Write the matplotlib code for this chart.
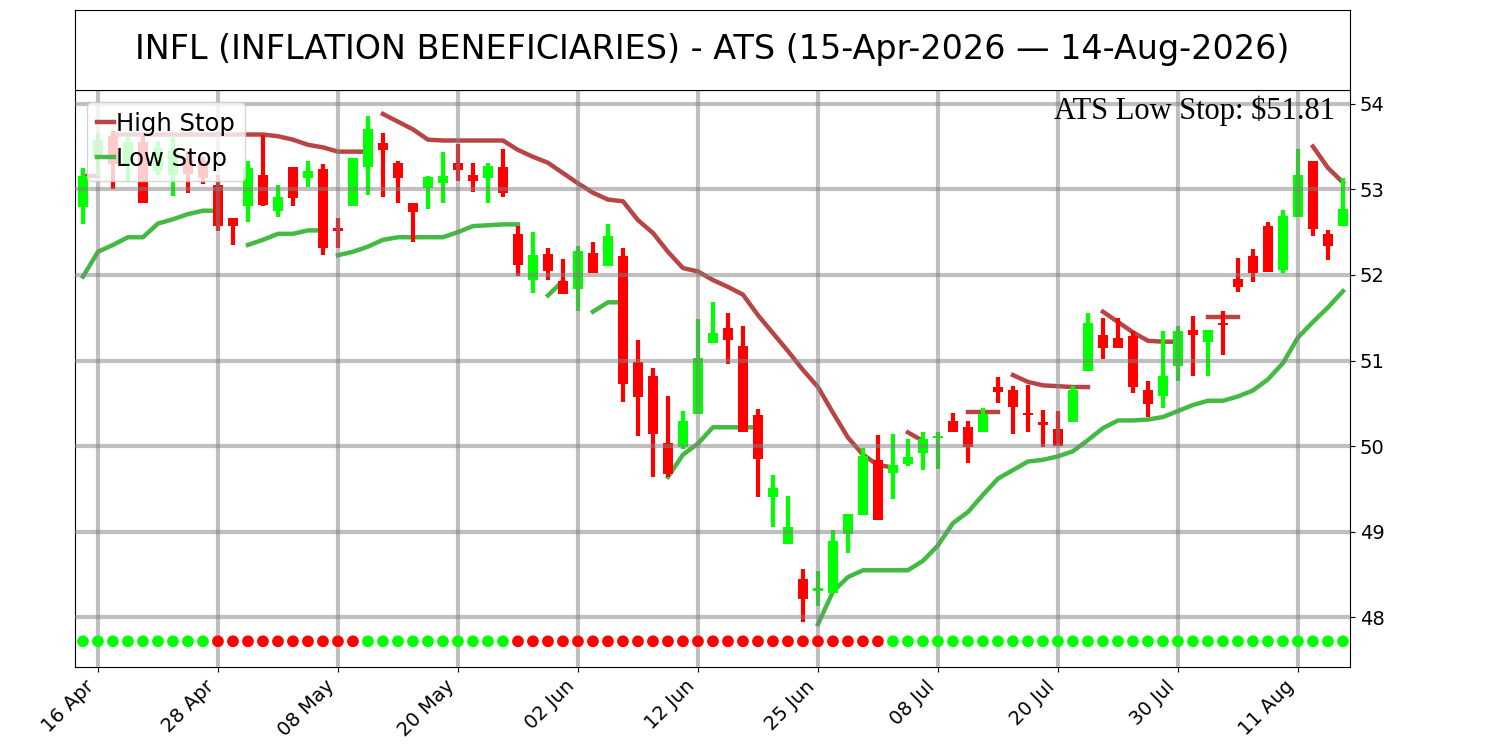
import matplotlib.pyplot as plt

# trading-day candles, 15-Apr-2026 .. 14-Aug-2026 (index = trading day)
opens = [52.79, 53.38, 53.62, 53.30, 53.55, 53.21, 53.17, 53.35, 53.33, 53.05,
         52.67, 52.80, 53.17, 52.75, 53.26, 53.13, 53.24, 52.55, 52.81, 53.26,
         53.54, 53.31, 52.84, 53.01, 53.07, 53.31, 53.17, 53.13, 53.26, 52.48,
         51.94, 52.25, 51.93, 51.83, 52.26, 52.10, 52.22, 50.98, 50.82, 50.04,
         49.99, 50.37, 51.20, 51.38, 51.17, 50.36, 49.40, 48.86, 48.45, 48.31,
         48.28, 48.97, 49.19, 49.84, 49.69, 49.79, 49.92, 50.09, 50.29, 50.22,
         50.16, 50.69, 50.66, 50.37, 50.26, 50.20, 50.28, 50.88, 51.30, 51.26,
         51.29, 50.66, 50.58, 50.94, 51.36, 51.22, 51.43, 51.95, 52.22, 52.57,
         52.06, 52.68, 53.33, 52.48, 52.57]
highs = [53.25, 53.66, 53.68, 53.62, 53.62, 53.56, 53.62, 53.45, 53.38, 53.17,
         52.67, 53.33, 53.64, 53.05, 53.26, 53.33, 53.30, 52.66, 53.37, 53.86,
         53.66, 53.33, 52.84, 53.15, 53.44, 53.53, 53.31, 53.31, 53.47, 52.57,
         52.50, 52.31, 52.19, 52.34, 52.38, 52.59, 52.31, 51.24, 50.91, 50.59,
         50.41, 51.49, 51.68, 51.55, 51.40, 50.43, 49.66, 49.42, 48.57, 48.54,
         49.02, 49.21, 49.98, 50.13, 50.14, 50.08, 50.17, 50.17, 50.39, 50.29,
         50.45, 50.81, 50.70, 50.71, 50.42, 50.41, 50.70, 51.55, 51.50, 51.50,
         51.34, 50.76, 51.35, 51.40, 51.52, 51.36, 51.58, 52.20, 52.30, 52.62,
         52.76, 53.47, 53.33, 52.53, 53.13]
lows = [52.60, 53.15, 53.00, 53.10, 52.84, 53.17, 52.92, 52.96, 53.06, 52.51,
        52.35, 52.62, 52.80, 52.68, 52.80, 53.03, 52.23, 52.32, 52.80, 52.93,
        52.91, 52.84, 52.38, 52.77, 52.84, 53.10, 52.97, 52.84, 52.91, 51.99,
        51.79, 51.94, 51.78, 51.58, 52.02, 52.10, 50.51, 50.12, 49.64, 49.64,
        49.97, 50.37, 51.20, 50.96, 50.17, 49.41, 49.06, 48.86, 47.94, 48.13,
        48.28, 48.75, 49.19, 49.14, 49.38, 49.77, 49.72, 49.73, 50.16, 49.80,
        50.16, 50.50, 50.14, 50.17, 49.99, 50.00, 50.28, 50.88, 51.02, 51.15,
        50.62, 50.34, 50.44, 50.76, 50.82, 50.82, 51.06, 51.80, 51.92, 52.03,
        52.02, 52.68, 52.46, 52.17, 52.57]
closes = [53.16, 53.58, 53.30, 53.55, 52.84, 53.48, 53.45, 53.18, 53.13, 52.57,
          52.57, 53.25, 52.82, 52.91, 52.90, 53.21, 52.31, 52.51, 53.36, 53.70,
          53.46, 53.13, 52.73, 53.14, 53.15, 53.23, 53.10, 53.27, 52.96, 52.11,
          52.23, 52.05, 51.78, 52.28, 52.02, 52.46, 50.73, 50.57, 50.14, 49.68,
          50.29, 51.03, 51.32, 51.24, 50.17, 49.85, 49.51, 49.05, 48.21, 48.32,
          48.89, 49.21, 49.88, 49.14, 49.78, 49.87, 50.08, 50.10, 50.16, 49.99,
          50.38, 50.63, 50.46, 50.36, 50.25, 50.00, 50.66, 51.44, 51.15, 51.15,
          50.69, 50.49, 50.82, 51.34, 51.30, 51.36, 51.41, 51.86, 52.02, 52.03,
          52.69, 53.17, 52.54, 52.34, 52.77]

# trend dots: 1 = up (green), 0 = down (red)
trend = [1] * 9 + [0] * 10 + [1] * 10 + [0] * 25 + [1] * 31

# stop segments: (first index, values)
high_stop = [
    (0, [53.15, 53.15]),
    (2, [53.64, 53.64, 53.64, 53.64, 53.64, 53.64, 53.64, 53.64, 53.64, 53.64,
         53.64, 53.62, 53.58, 53.52, 53.49, 53.44, 53.44, 53.44]),
    (20, [53.88, 53.79, 53.70, 53.58, 53.57, 53.57, 53.57, 53.57, 53.57, 53.46,
          53.38, 53.31, 53.19, 53.07, 52.96, 52.88, 52.86, 52.64, 52.49, 52.27,
          52.08, 52.04, 51.94, 51.86, 51.77, 51.53, 51.32, 51.11, 50.89, 50.69,
          50.39, 50.10, 49.90, 49.78, 49.75]),
    (55, [50.16, 50.06]),
    (59, [50.40, 50.40, 50.40]),
    (62, [50.83, 50.75, 50.71, 50.70, 50.69, 50.69]),
    (68, [51.57, 51.45, 51.33, 51.23, 51.22, 51.22]),
    (75, [51.51, 51.51, 51.51]),
    (82, [53.50, 53.25, 53.08]),
]
low_stop = [
    (0, [51.98, 52.27, 52.35, 52.44, 52.44, 52.60, 52.65, 52.71, 52.75, 52.75]),
    (11, [52.35, 52.41, 52.48, 52.48, 52.52, 52.52]),
    (17, [52.23, 52.27, 52.33, 52.41, 52.44, 52.44, 52.44, 52.44, 52.50, 52.57,
          52.58, 52.59, 52.59]),
    (31, [51.76, 51.93]),
    (34, [51.57, 51.68, 51.68]),
    (39, [49.64, 49.90, 50.03, 50.22, 50.22, 50.22, 50.22]),
    (49, [47.92, 48.30, 48.47, 48.55, 48.55, 48.55, 48.55, 48.66, 48.84, 49.10,
          49.23, 49.43, 49.62, 49.72, 49.82, 49.84, 49.88, 49.94, 50.07, 50.21,
          50.30, 50.30, 50.31, 50.34, 50.41, 50.48, 50.53, 50.53, 50.58, 50.65,
          50.78, 50.97, 51.27, 51.45, 51.62, 51.81]),
]

tick_pos = [1, 9, 17, 25, 33, 41, 49, 57, 65, 73, 81]
tick_labels = ["16 Apr", "28 Apr", "08 May", "20 May", "02 Jun", "12 Jun",
               "25 Jun", "08 Jul", "20 Jul", "30 Jul", "11 Aug"]
dot_level = 47.72
title = "INFL (INFLATION BENEFICIARIES) - ATS (15-Apr-2026 \u2014 14-Aug-2026)"

fig = plt.figure(figsize=(15, 7.5), dpi=100)
ax = fig.add_axes([0.05, 0.1107, 0.85, 0.7693])
tax = fig.add_axes([0.05, 0.88, 0.85, 0.1067])
tax.set_xticks([])
tax.set_yticks([])
tax.text(0.5, 0.5, title, ha="center", va="center", fontsize=24)

x = list(range(len(closes)))
cols = ["#00ff00" if c >= o else "#ff0000" for o, c in zip(opens, closes)]

# stops under the candles
for k, (start, vals) in enumerate(high_stop):
    ax.plot(range(start, start + len(vals)), vals, color="#b84444", lw=3.2,
            zorder=1, label="High Stop" if k == 0 else None)
for k, (start, vals) in enumerate(low_stop):
    ax.plot(range(start, start + len(vals)), vals, color="#44b944", lw=3.2,
            zorder=1, label="Low Stop" if k == 0 else None)

ax.vlines(x, lows, highs, colors=cols, lw=3, zorder=1.5)
bottoms = [min(o, c) for o, c in zip(opens, closes)]
heights = [max(abs(c - o), 0.03) for o, c in zip(opens, closes)]
ax.bar(x, heights, bottom=bottoms, width=0.7, color=cols, zorder=1.6)

dot_cols = ["#00ff00" if t else "#ff0000" for t in trend]
ax.scatter(x, [dot_level] * len(x), c=dot_cols, s=55, zorder=3)

ax.set_xlim(-0.53, 84.47)
ax.set_ylim(47.42, 54.16)
ax.set_xticks(tick_pos)
ax.set_xticklabels(tick_labels, rotation=45, ha="right", fontsize=14)
ax.yaxis.tick_right()
ax.tick_params(axis="y", labelsize=14)
ax.set_axisbelow(False)
ax.grid(True, color="gray", alpha=0.5, lw=3)

ax.text(0.988, 0.99, "ATS Low Stop: $%.2f" % low_stop[-1][1][-1],
        transform=ax.transAxes, ha="right", va="top", fontsize=22,
        family="Liberation Serif", zorder=5)
leg = ax.legend(loc="upper left", fontsize=17.5, handlelength=0.7,
                handletextpad=0.1, labelspacing=0.45)
leg.set_zorder(6)

fig.savefig("out.png", dpi=100)
